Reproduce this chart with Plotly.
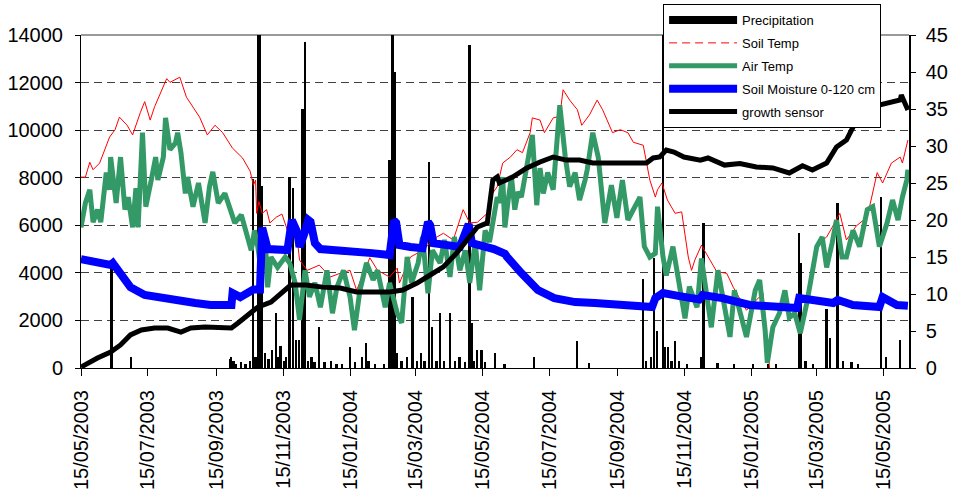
import pandas as pd
import plotly.graph_objects as go

START = pd.Timestamp("2003-05-15")

# Daily rainfall events (days after 15/05/2003, mm)
precip_day = [28, 46, 136, 137, 139, 141, 146, 150, 154, 157, 159, 162, 163, 165, 168, 171, 174, 178, 180, 182,
              185, 187, 190, 193, 196, 199, 202, 204, 207, 210, 213, 217, 222, 228, 233, 238, 245, 250, 256, 260,
              262, 268, 276, 281, 284, 286, 288, 292, 297, 302, 306, 310, 313, 317, 320, 324, 327, 331, 336, 341,
              345, 350, 354, 356, 358, 361, 365, 368, 377, 386, 413, 452, 463, 512, 515, 519, 522, 525, 530, 532,
              535, 538, 541, 545, 552, 565, 567, 580, 595, 612, 626, 633, 654, 656, 660, 667, 679, 682, 689, 694,
              702, 708, 729, 733, 746]
precip = [13.5, 1.5, 1.2, 1.5, 1.0, 0.6, 0.8, 0.6, 1.0, 25.6, 1.5, 60, 60, 24.6, 2.0, 1.2, 2.5, 7.5, 1.5, 3.0,
          1.0, 1.5, 25.8, 24.3, 3.8, 3.8, 35.0, 44.0, 1.0, 1.5, 0.8, 5.5, 0.8, 1.0, 0.6, 0.5, 2.8, 0.8, 1.5, 3.4,
          1.0, 0.6, 0.5, 28.1, 60, 40.0, 2.0, 1.0, 1.5, 9.6, 1.0, 2.0, 1.0, 27.8, 5.5, 1.0, 7.4, 1.0, 7.4, 1.0,
          1.5, 0.8, 43.6, 6.1, 1.0, 2.4, 2.4, 0.8, 2.0, 0.6, 1.5, 3.6, 0.7, 12.0, 1.0, 1.5, 14.9, 5.0, 60, 2.8,
          2.8, 1.0, 3.7, 1.0, 0.6, 1.5, 19.6, 0.7, 0.5, 0.5, 0.5, 0.5, 18.2, 14.2, 1.0, 0.6, 8.0, 4.0, 22.3, 1.0,
          0.8, 0.6, 23.1, 1.5, 3.8]

# Soil temperature (deg C); sensor gap in winter 2005
soil_day = [0, 4, 8, 11, 17, 24, 26, 31, 35, 42, 47, 54, 58, 63, 67, 78, 81, 90, 96, 108,
            115, 122, 129, 138, 147, 154, 157, 159, 160, 162, 165, 169, 172, 178, 183, 188, 195, 199, 206, 217,
            227, 236, 245, 251, 263, 270, 281, 288, 290, 300, 311, 324, 330, 339, 348, 354, 361, 370, 372, 379,
            384, 391, 397, 402, 409, 411, 418, 422, 430, 436, 439, 445, 452, 456, 463, 470, 475, 484, 491, 498,
            503, 512, 516, 518, 523, 525, 529, 534, 541, 547, 553, 556, 559, 565, 579, 588, 594, 606, 621, 626,
            627, 650, 673, 679, 684, 691, 697, 706, 716, 725, 730, 738, 746, 748, 753]
soil_temp = [25.8, 25.8, 27.8, 26.8, 27.7, 30.4, 31.2, 32.2, 33.9, 32.8, 31.5, 34.5, 36.0, 33.5, 35.3, 39.1, 38.6, 39.3, 36.6, 33.9,
             31.5, 32.8, 31.8, 29.7, 28.4, 26.6, 24.7, 25.4, 20.9, 22.5, 20.9, 21.4, 19.6, 20.4, 20.8, 18.6, 20.0, 14.6, 13.2, 13.9,
             12.3, 12.8, 13.2, 10.5, 14.9, 13.2, 12.3, 13.5, 11.5, 15.0, 15.9, 17.7, 18.2, 17.3, 21.4, 19.6, 19.7, 20.9, 23.0, 24.5,
             27.7, 28.5, 29.5, 29.1, 31.8, 33.8, 33.5, 31.8, 33.8, 34.0, 37.6, 36.2, 34.9, 32.8, 34.2, 36.2, 34.9, 31.8, 32.2, 31.8,
             30.5, 30.1, 26.8, 25.4, 23.1, 24.1, 25.0, 22.7, 20.9, 21.1, 15.0, 13.2, 14.6, 16.6, 13.0, 12.8, 10.9, 7.8, 10.1, 2.0,
             0.0, None, 17.0, 17.7, 19.0, 20.9, 17.3, 19.2, 20.4, 26.4, 25.0, 27.7, 28.5, 27.7, 30.8]

# Air temperature (deg C)
air_day = [0, 4, 8, 11, 15, 18, 23, 26, 27, 32, 36, 40, 43, 47, 50, 52, 56, 59, 64, 68,
           70, 75, 77, 81, 86, 88, 91, 95, 97, 102, 107, 113, 117, 120, 125, 131, 136, 140, 146, 150,
           155, 158, 161, 164, 168, 170, 173, 179, 186, 190, 195, 199, 204, 208, 213, 218, 224, 229, 233, 239,
           245, 249, 254, 260, 266, 270, 277, 281, 288, 292, 297, 301, 307, 311, 316, 320, 327, 331, 336, 340,
           345, 350, 354, 359, 363, 368, 372, 379, 381, 384, 386, 389, 392, 395, 398, 401, 406, 411, 415, 418,
           421, 425, 430, 436, 441, 445, 450, 454, 459, 461, 466, 471, 477, 483, 488, 493, 498, 504, 509, 513,
           518, 523, 525, 530, 533, 539, 543, 550, 554, 561, 565, 570, 574, 580, 584, 591, 595, 600, 606, 614,
           618, 623, 625, 630, 636, 641, 645, 650, 655, 661, 665, 670, 675, 679, 684, 688, 693, 697, 703, 709,
           716, 721, 727, 734, 739, 744, 748, 752, 753]
air_temp = [19.0, 22.3, 24.1, 19.7, 21.4, 19.7, 26.4, 24.1, 28.5, 22.3, 28.5, 21.4, 23.1, 19.0, 24.3, 19.0, 31.8, 21.8, 25.4, 28.5,
            25.4, 28.5, 33.8, 29.5, 30.4, 31.8, 29.1, 23.6, 25.8, 21.8, 25.0, 19.6, 24.5, 26.5, 22.3, 23.6, 21.4, 19.6, 20.7, 18.6,
            15.9, 18.6, 16.4, 13.2, 16.9, 10.9, 15.0, 13.6, 15.0, 14.2, 11.5, 6.5, 13.2, 9.6, 11.5, 8.2, 13.2, 7.4, 10.9, 13.2,
            9.6, 5.1, 10.5, 14.2, 11.9, 13.2, 8.2, 11.5, 7.4, 6.1, 15.0, 11.5, 14.2, 17.7, 10.1, 15.9, 14.2, 17.3, 12.3, 17.7,
            13.2, 15.9, 11.5, 17.0, 10.5, 18.6, 17.0, 23.1, 22.3, 25.8, 19.0, 22.7, 25.8, 21.4, 23.8, 23.1, 27.2, 31.5, 22.0, 27.0,
            23.6, 26.4, 24.1, 35.5, 28.5, 24.5, 26.4, 22.7, 25.4, 26.8, 31.8, 28.5, 19.6, 24.7, 20.3, 25.4, 20.0, 21.8, 23.1, 16.4,
            15.0, 15.5, 21.8, 15.0, 12.5, 16.4, 13.0, 6.7, 11.0, 8.2, 14.8, 10.0, 5.5, 13.2, 9.6, 4.2, 10.5, 7.4, 4.2, 10.5,
            11.9, 5.1, 0.7, 5.5, 7.4, 10.5, 6.8, 7.4, 4.7, 8.8, 11.9, 16.4, 17.7, 13.6, 16.9, 20.0, 15.0, 15.0, 18.6, 16.4,
            21.4, 21.8, 16.4, 19.6, 22.7, 20.0, 23.1, 25.4, 26.8]

# Soil moisture, 0-120 cm profile
sm_day = [0, 27, 29, 36, 45, 58, 73, 88, 104, 118, 137, 138, 145, 157, 163, 165, 170, 188, 190, 192,
          197, 199, 203, 207, 209, 213, 218, 236, 265, 281, 285, 287, 290, 300, 311, 316, 318, 321, 345, 353,
          356, 360, 370, 376, 386, 388, 401, 416, 431, 450, 468, 486, 504, 520, 523, 530, 545, 563, 566, 584,
          609, 630, 652, 654, 666, 685, 689, 703, 727, 730, 743, 753]
soil_moisture = [4580, 4330, 4410, 3990, 3400, 3070, 2940, 2860, 2730, 2650, 2650, 3150, 2980, 3300, 3300, 5900, 5000, 4960, 5600, 6220,
                 5700, 5090, 5600, 6220, 6150, 5250, 5000, 4960, 4830, 4750, 6200, 6100, 5170, 5090, 5040, 6140, 6000, 5250, 5090, 6050,
                 5250, 5200, 5100, 5000, 4800, 4670, 3990, 3280, 2940, 2770, 2730, 2650, 2560, 2560, 2940, 3150, 3020, 2880, 3070, 2940,
                 2650, 2560, 2520, 2940, 2860, 2730, 2860, 2650, 2560, 2980, 2650, 2620]

# Stem growth sensor
growth_day = [0, 6, 15, 27, 36, 45, 55, 67, 79, 91, 100, 113, 125, 137, 143, 152, 161, 173, 182, 191,
              205, 220, 236, 251, 266, 281, 293, 306, 318, 330, 342, 351, 361, 370, 375, 379, 381, 393, 406, 418,
              430, 442, 454, 466, 479, 491, 503, 515, 521, 527, 533, 540, 549, 564, 571, 586, 600, 615, 630, 645,
              657, 666, 679, 688, 697, 705, 709, 721, 734, 746, 747, 753]
growth = [40, 200, 420, 670, 970, 1390, 1600, 1680, 1680, 1510, 1680, 1720, 1680, 1680, 1890, 2230, 2560, 2770, 3150, 3490,
          3490, 3400, 3360, 3200, 3200, 3200, 3280, 3570, 3910, 4250, 4830, 5380, 5930, 6100, 7900, 8030, 7780, 8030, 8410, 8660,
          8870, 8740, 8740, 8620, 8620, 8580, 8620, 8620, 8830, 8870, 9160, 9080, 8870, 8740, 8830, 8530, 8600, 8450, 8410, 8200,
          8500, 8320, 8620, 9290, 9580, 10300, 10850, 10970, 11140, 11270, 11480, 10850]

tick_dates = ["2003-05-15", "2003-07-15", "2003-09-15", "2003-11-15", "2004-01-15", "2004-03-15", "2004-05-15",
              "2004-07-15", "2004-09-15", "2004-11-15", "2005-01-15", "2005-03-15", "2005-05-15"]
tick_labels = ["15/05/2003", "15/07/2003", "15/09/2003", "15/11/2003", "15/01/2004", "15/03/2004", "15/05/2004",
               "15/07/2004", "15/09/2004", "15/11/2004", "15/01/2005", "15/03/2005", "15/05/2005"]

for a, b in [(precip_day, precip), (soil_day, soil_temp), (air_day, air_temp),
             (sm_day, soil_moisture), (growth_day, growth)]:
    assert len(a) == len(b)


def to_dates(days):
    return START + pd.to_timedelta(days, unit="D")


FONT = "Liberation Sans, Arial, sans-serif"
DAY_MS = 86400000

fig = go.Figure()

# rainfall bars (right axis, clipped at 45)
fig.add_trace(go.Bar(x=to_dates(precip_day), y=precip, width=1.7 * DAY_MS, marker_color="black",
                     marker_line_width=0, name="Precipitation", showlegend=False, legendgroup="p", yaxis="y"))
fig.add_trace(go.Scatter(x=[None], y=[None], mode="lines", line=dict(color="black", width=8),
                         name="Precipitation", legendgroup="p", yaxis="y"))

fig.add_trace(go.Scatter(x=to_dates(soil_day), y=soil_temp, mode="lines", line=dict(color="#FF0000", width=1),
                         name="Soil Temp", showlegend=False, legendgroup="st", connectgaps=False, yaxis="y"))
fig.add_trace(go.Scatter(x=[None], y=[None], mode="lines", line=dict(color="#FF0000", width=1, dash="8px,5px"),
                         name="Soil Temp", legendgroup="st", yaxis="y"))

fig.add_trace(go.Scatter(x=to_dates(air_day), y=air_temp, mode="lines", line=dict(color="#339966", width=5),
                         name="Air Temp", legendgroup="at", yaxis="y"))

fig.add_trace(go.Scatter(x=to_dates(sm_day), y=soil_moisture, mode="lines", line=dict(color="#0000FF", width=8),
                         name="Soil Moisture 0-120 cm", legendgroup="sm", yaxis="y2"))
fig.add_trace(go.Scatter(x=to_dates(growth_day), y=growth, mode="lines", line=dict(color="black", width=5),
                         name="growth sensor", legendgroup="gs", yaxis="y2"))

fig.update_layout(
    width=953, height=489,
    margin=dict(l=81, r=44, t=35, b=121, autoexpand=False),
    paper_bgcolor="white", plot_bgcolor="white",
    font=dict(family=FONT, color="black"),
    bargap=0,
    xaxis=dict(type="date", range=["2003-05-15", "2005-06-07"], tickvals=tick_dates, ticktext=tick_labels,
               tickangle=-90, ticks="outside", ticklen=7, tickcolor="black", showline=True, linecolor="black",
               linewidth=1, showgrid=False, tickfont=dict(size=20, family=FONT), ticklabelstandoff=6),
    yaxis=dict(range=[0, 45], dtick=5, side="right", ticks="outside", ticklen=5, tickcolor="black",
               showline=True, linecolor="black", linewidth=1.5, showgrid=False, zeroline=False,
               tickfont=dict(size=20, family=FONT), ticklabelstandoff=6),
    yaxis2=dict(range=[0, 14000], dtick=2000, side="left", overlaying="y", ticks="outside", ticklen=5,
                tickcolor="black", showline=True, linecolor="black", linewidth=1, tickformat="d",
                showgrid=True, gridcolor="#404040", gridwidth=1, griddash="8px,5px", zeroline=False,
                tickfont=dict(size=20, family=FONT), ticklabelstandoff=8),
    legend=dict(x=0.703, y=1.093, xanchor="left", yanchor="top", bgcolor="white", bordercolor="black",
                borderwidth=1, font=dict(size=13, family=FONT), itemwidth=68, tracegroupgap=3,
                traceorder="grouped"),
    shapes=[dict(type="line", xref="paper", yref="paper", x0=0, x1=1, y0=1, y1=1,
                 line=dict(color="#9a9a9a", width=2), layer="below")],
)

fig.write_html("out.html")
